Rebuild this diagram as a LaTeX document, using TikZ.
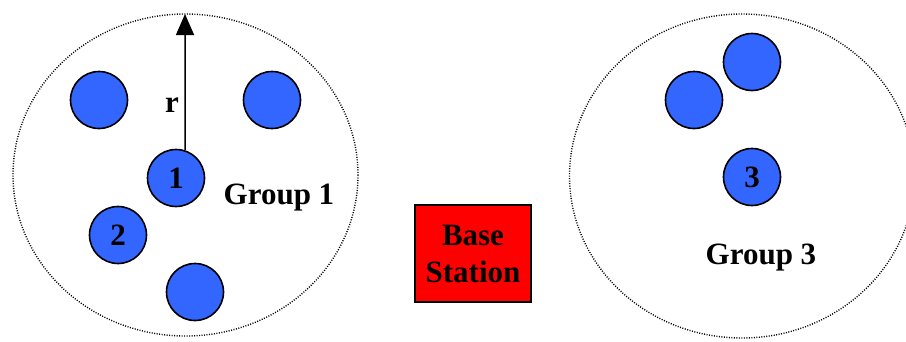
\documentclass[tikz,border=0pt]{standalone}
\usepackage{fontspec}
\setmainfont{Liberation Serif}
\usetikzlibrary{arrows.meta}
\definecolor{nodeblue}{HTML}{3366FF}
\definecolor{bsred}{HTML}{FF0000}
\begin{document}
\begin{tikzpicture}[x=1pt,y=-1pt,
  sensor/.style={circle,draw=black,line width=1.6pt,fill=nodeblue,minimum size=57pt,inner sep=0pt,font=\fontsize{31}{31}\selectfont\bfseries},
  groupring/.style={draw=black,line width=1.4pt,dash pattern=on 1pt off 1.5pt},
  lbl/.style={font=\fontsize{31}{31}\selectfont\bfseries,inner sep=0pt}]
\useasboundingbox (0,0) rectangle (906,341);
\begin{scope}
\clip (0,0) rectangle (906,341);
\draw[groupring] (185.5,175) ellipse [x radius=172.5, y radius=161];
\draw[groupring] (742,176) ellipse [x radius=172.5, y radius=162];
\end{scope}
\coordinate (rtop) at (185,14);
% group 1
\node[sensor] (a) at (99,100) {};
\node[sensor] (b) at (272,100) {};
\node[sensor] (n1) at (176,178) {1};
\node[sensor] (n2) at (118,235) {2};
\node[sensor] (c) at (195,292) {};
\draw[line width=1.5pt,-{Triangle[width=18pt,length=21pt]}] (n1.72) -- (rtop);
\node[lbl] (r) at (172,105) {r};
\node[lbl] (g1) at (279,198) {Group 1};
% base station
\node[draw=black,line width=1.6pt,fill=bsred,minimum width=116pt,minimum height=97pt,inner sep=0pt,align=center,font=\fontsize{31}{37}\selectfont\bfseries] (bs) at (473,253.5) {Base\\Station};
% group 3
\node[sensor] (d) at (694,100) {};
\node[sensor] (e) at (752,62) {};
\node[sensor] (n3) at (752,177) {3};
\node[lbl] (g3) at (761,258) {Group 3};
\end{tikzpicture}
\end{document}
